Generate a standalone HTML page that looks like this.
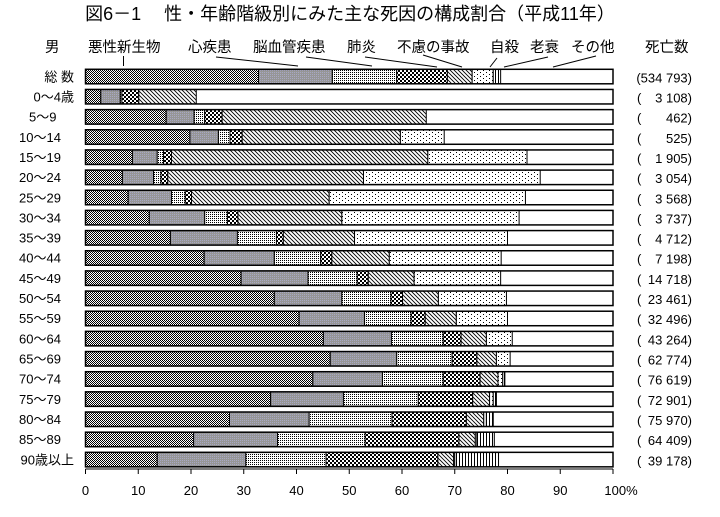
<!DOCTYPE html>
<html><head><meta charset="utf-8">
<style>
html,body{margin:0;padding:0;background:#fff;}
svg{display:block;font-family:"Liberation Sans","Noto Sans CJK JP",sans-serif;}
</style></head>
<body>
<svg id="chart" width="720" height="517" viewBox="0 0 720 517">
<defs>
<pattern id="p-cancer" width="2" height="2" patternUnits="userSpaceOnUse"><rect width="2" height="2" fill="#fff"/><rect width="1" height="1" fill="#000"/><rect x="1" y="1" width="1" height="1" fill="#000"/></pattern>
<pattern id="p-heart" width="2" height="2" patternUnits="userSpaceOnUse"><rect width="2" height="2" fill="#969696"/><rect width="1" height="1" fill="#a8a8c4"/></pattern>
<pattern id="p-cerebro" width="2" height="2" patternUnits="userSpaceOnUse"><rect width="2" height="2" fill="#fff"/><rect width="1" height="1" fill="#000"/></pattern>
<pattern id="p-pneu" width="4" height="4" patternUnits="userSpaceOnUse"><rect width="4" height="4" fill="#fff"/><rect width="2" height="2" fill="#000"/><rect x="2" y="2" width="2" height="2" fill="#000"/></pattern>
<pattern id="p-acc" width="4" height="4" patternUnits="userSpaceOnUse"><rect width="4" height="4" fill="#fff"/><path d="M0,0L4,4M-1,3L1,5M3,-1L5,1" stroke="#000" stroke-width="0.9"/></pattern>
<pattern id="p-sui" width="6" height="4" patternUnits="userSpaceOnUse"><rect width="6" height="4" fill="#fff"/><rect width="1" height="1" fill="#000"/><rect x="3" y="2" width="1" height="1" fill="#000"/></pattern>
<pattern id="p-sen" width="3" height="3" patternUnits="userSpaceOnUse"><rect width="3" height="3" fill="#fff"/><rect width="1" height="3" fill="#000"/></pattern>
</defs>
<text x="350" y="20" font-size="18" text-anchor="middle">図6－1　 性・年齢階級別にみた主な死因の構成割合（平成11年）</text>
<g font-size="14.5">
<text x="45" y="52">男</text>
<text x="88" y="52">悪性新生物</text>
<text x="188" y="52">心疾患</text>
<text x="253" y="52">脳血管疾患</text>
<text x="347" y="52">肺炎</text>
<text x="397" y="52">不慮の事故</text>
<text x="490" y="52">自殺</text>
<text x="530" y="52">老衰</text>
<text x="571" y="52">その他</text>
<text x="645" y="52">死亡数</text>
</g>
<g stroke="#000" stroke-width="1" fill="none">
<line x1="123.5" y1="56" x2="123.5" y2="66"/>
<line x1="216" y1="57" x2="298" y2="66"/>
<line x1="306" y1="57" x2="372" y2="66"/>
<line x1="365" y1="57" x2="437" y2="67"/>
<line x1="423" y1="55" x2="462" y2="67"/>
<line x1="497" y1="58" x2="490" y2="67"/>
<line x1="548" y1="57" x2="504" y2="67"/>
<line x1="596" y1="56" x2="553" y2="67"/>
</g>
<g id="bars"></g>
<g id="labels" font-size="13"></g>
<g id="axis"></g>
</svg>
<script>
const categories = ["総 数","0～4歳","5～9","10～14","15～19","20～24","25～29","30～34","35～39","40～44","45～49","50～54","55～59","60～64","65～69","70～74","75～79","80～84","85～89","90歳以上"];
const deaths = ["(534 793)","3 108)","462)","525)","1 905)","3 054)","3 568)","3 737)","4 712)","7 198)","14 718)","23 461)","32 496)","43 264)","62 774)","76 619)","72 901)","75 970)","64 409)","39 178)"];
const cancer    = [32.8, 2.9,15.3,19.8, 8.9, 7.0, 8.1,12.1,16.1,22.5,29.5,35.8,40.5,45.1,46.4,43.1,35.1,27.3,20.5,13.6];
const heart     = [14.0, 3.7, 5.3, 5.4, 4.7, 5.9, 8.2,10.5,12.7,13.3,12.7,12.8,12.4,12.9,12.6,13.2,13.8,15.1,15.9,16.8];
const cerebro   = [12.2, 0.3, 2.0, 2.2, 1.2, 1.4, 2.6, 4.3, 7.4, 8.8, 9.3, 9.3, 8.8, 9.8,10.5,11.5,14.2,15.7,16.6,15.2];
const pneumonia = [ 9.6, 3.2, 3.3, 2.3, 1.5, 1.3, 1.2, 2.0, 1.3, 2.1, 2.1, 2.2, 2.7, 3.4, 4.7, 7.0,10.3,14.1,17.8,21.2];
const accident  = [ 4.7,10.9,38.7,30.0,48.6,37.1,26.1,19.7,13.5,10.9, 8.7, 6.8, 5.9, 4.8, 3.7, 3.4, 3.2, 3.3, 3.1, 3.0];
const suicide   = [ 4.0, 0.0, 0.0, 8.3,18.8,33.5,37.2,33.6,29.0,21.2,16.4,12.9, 9.7, 4.9, 2.6, 0.9, 0.7, 0.5, 0.3, 0.2];
const senility  = [ 1.4, 0.0, 0.0, 0.0, 0.0, 0.0, 0.0, 0.0, 0.0, 0.0, 0.0, 0.0, 0.0, 0.0, 0.0, 0.4, 0.6, 1.3, 3.3, 8.3];
const tickValues = [0,10,20,30,40,50,60,70,80,90,100];
const tickLabels = ["0","10","20","30","40","50","60","70","80","90","100%"];

const NS = "http://www.w3.org/2000/svg";
const X0 = 85.5, X1 = 613;
const xScale = p => X0 + (X1 - X0) * p / 100;
const rowTop = i => 69.3 + i * 20.16;
const BH = 14.5;
const series = [cancer, heart, cerebro, pneumonia, accident, suicide, senility];
const fills = ["p-cancer","p-heart","p-cerebro","p-pneu","p-acc","p-sui","p-sen"];
const segNames = ["cancer","heart","cerebro","pneumonia","accident","suicide","senility"];
const bars = document.getElementById("bars");
const labels = document.getElementById("labels");
const axis = document.getElementById("axis");

categories.forEach((cat, i) => {
  const y = rowTop(i);
  const bg = document.createElementNS(NS, "rect");
  
  
  bg.setAttribute("x", xScale(0)); bg.setAttribute("y", y);
  bg.setAttribute("width", xScale(100) - xScale(0)); bg.setAttribute("height", BH);
  bg.setAttribute("fill", "#fff");
  bars.appendChild(bg);
  let cum = 0;
  series.forEach((s, k) => {
    const v = s[i];
    if (v > 0) {
      const r = document.createElementNS(NS, "rect");
      
      
      r.setAttribute("x", xScale(cum)); r.setAttribute("y", y);
      r.setAttribute("width", xScale(cum + v) - xScale(cum)); r.setAttribute("height", BH);
      r.setAttribute("fill", "url(#" + fills[k] + ")");
      r.setAttribute("stroke", "#000"); r.setAttribute("stroke-width", "1");
      bars.appendChild(r);
    }
    cum += v;
  });
  const ol = document.createElementNS(NS, "rect");
  
  
  ol.setAttribute("x", xScale(0)); ol.setAttribute("y", y);
  ol.setAttribute("width", xScale(100) - xScale(0)); ol.setAttribute("height", BH);
  ol.setAttribute("fill", "none"); ol.setAttribute("stroke", "#000"); ol.setAttribute("stroke-width", "1.5");
  bars.appendChild(ol);

  const t = document.createElementNS(NS, "text");
  
  
  const special = (i === 0 || i === 1 || i === categories.length - 1);
  if (special) { t.setAttribute("x", 74); t.setAttribute("text-anchor", "end"); }
  else { t.setAttribute("x", i === 2 ? 29 : 19); }
  t.setAttribute("y", y + 12);
  t.textContent = cat;
  labels.appendChild(t);

  const d = document.createElementNS(NS, "text");
  
  
  d.setAttribute("x", 692); d.setAttribute("text-anchor", "end");
  d.setAttribute("y", y + 13);
  d.textContent = deaths[i];
  labels.appendChild(d);
  if (i > 0) {
    const p = document.createElementNS(NS, "text");
    
    
    p.setAttribute("x", 637); p.setAttribute("y", y + 13);
    p.textContent = "(";
    labels.appendChild(p);
  }
});

const base = document.createElementNS(NS, "line");


base.setAttribute("x1", xScale(0)); base.setAttribute("x2", xScale(100));
base.setAttribute("y1", 469); base.setAttribute("y2", 469);
base.setAttribute("stroke", "#000"); base.setAttribute("stroke-width", "1");
axis.appendChild(base);
tickValues.forEach((v, j) => {
  const tk = document.createElementNS(NS, "line");
  
  
  tk.setAttribute("x1", xScale(v)); tk.setAttribute("x2", xScale(v));
  tk.setAttribute("y1", 469); tk.setAttribute("y2", 474);
  tk.setAttribute("stroke", "#000");
  axis.appendChild(tk);
  const tl = document.createElementNS(NS, "text");
  
  
  tl.setAttribute("x", xScale(v) + (j === tickValues.length - 1 ? 8 : 0));
  tl.setAttribute("y", 495); tl.setAttribute("text-anchor", "middle");
  tl.setAttribute("font-size", "13");
  tl.textContent = tickLabels[j];
  axis.appendChild(tl);
});
</script>
</body></html>
